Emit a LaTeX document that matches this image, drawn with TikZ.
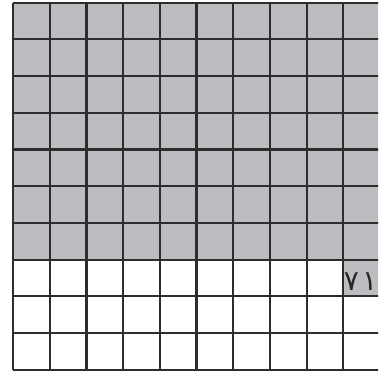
\documentclass[tikz,border=0pt]{standalone}
\usepackage{fontspec}
\newfontfamily\arabicfont[Script=Arabic]{DejaVu Sans}
\definecolor{cellgray}{RGB}{188,189,193}
\definecolor{gridline}{RGB}{45,45,45}
\tikzset{gridlines/.style={draw=gridline, line width=2.2pt},
  numlabel/.style={font=\arabicfont\fontsize{28}{30}\selectfont, text=black!85, inner sep=0pt}}
\begin{document}
\begin{tikzpicture}[x=1pt,y=-1pt]
\useasboundingbox (0,0) rectangle (378,379);
\clip (0,0) rectangle (378,379);
\fill[cellgray] (13,2.7) rectangle (380,259.6);
\fill[cellgray] (343.3,259.6) rectangle (380,296.3);
\foreach \i in {0,...,10} {
  \draw[gridlines] (13+36.7*\i,2.7) -- (13+36.7*\i,369.7);
  \draw[gridlines] (13,2.7+36.7*\i) -- (380,2.7+36.7*\i);
}
\node[numlabel] (n71) at (360.5,282) {٧\kern3pt١};
\end{tikzpicture}
\end{document}
